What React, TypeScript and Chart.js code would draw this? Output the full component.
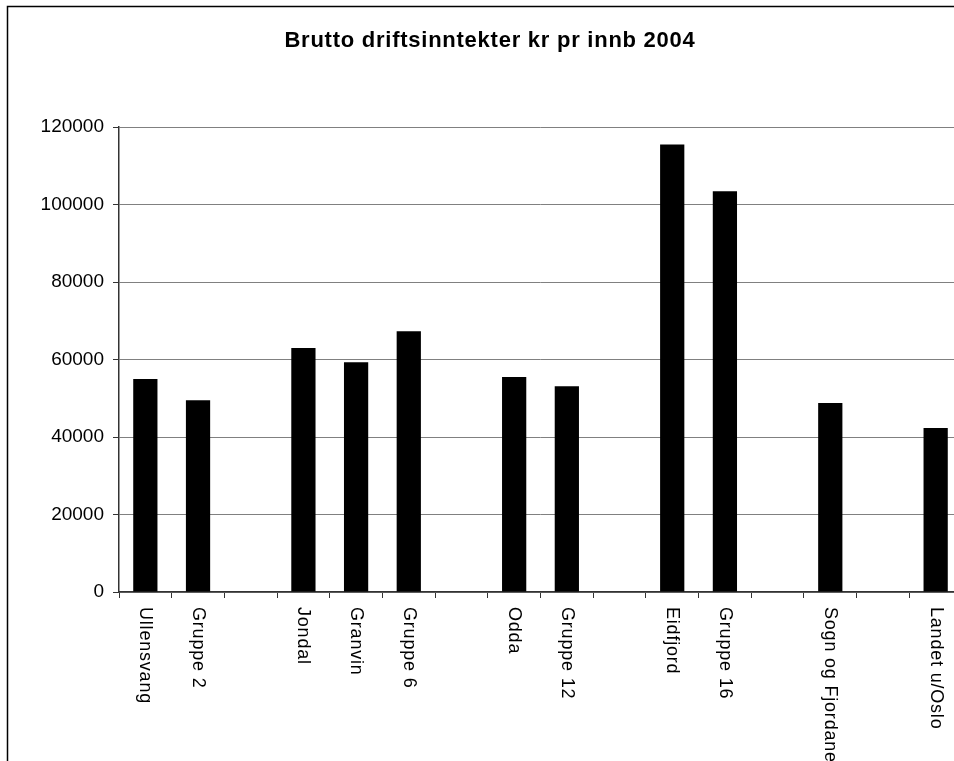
import React, { useEffect, useRef } from "react";
import { Chart, registerables } from "chart.js";

Chart.register(...registerables);

const TITLE = "Brutto driftsinntekter kr pr innb 2004";
const categories = [
  "Ullensvang", "Gruppe 2", "",
  "Jondal", "Granvin", "Gruppe 6", "",
  "Odda", "Gruppe 12", "",
  "Eidfjord", "Gruppe 16", "",
  "Sogn og Fjordane", "",
  "Landet u/Oslo",
];
const values: (number | null)[] = [
  55000, 49500, null,
  63000, 59300, 67300, null,
  55500, 53100, null,
  115500, 103400, null,
  48800, null,
  42300,
];
const yTicks = [0, 20000, 40000, 60000, 80000, 100000, 120000];

const W = 980;
const H = 820;
const FONT = "'Liberation Sans', Arial, sans-serif";

export default function App() {
  const ref = useRef<HTMLCanvasElement | null>(null);
  useEffect(() => {
    if (!ref.current) return;
    const deco = {
      id: "deco",
      afterDraw(chart: any) {
        const ctx = chart.ctx;
        ctx.save();
        ctx.strokeStyle = "#000";
        ctx.lineWidth = 1.5;
        ctx.strokeRect(7.5, 6.5, chart.width - 14, chart.height - 14);
        ctx.fillStyle = "#000";
        ctx.font = `bold 22px ${FONT}`;
        (ctx as any).letterSpacing = "0.75px";
        ctx.textAlign = "center";
        ctx.textBaseline = "middle";
        ctx.fillText(TITLE, chart.width / 2, 41);
        const xs = chart.scales.x;
        ctx.font = `18px ${FONT}`;
        (ctx as any).letterSpacing = "0.8px";
        ctx.textAlign = "left";
        ctx.textBaseline = "middle";
        categories.forEach((c, i) => {
          if (!c) return;
          const x = xs.getPixelForValue(i);
          ctx.save();
          ctx.translate(x, xs.top + 15);
          ctx.rotate(Math.PI / 2);
          ctx.fillText(c, 0, 0);
          ctx.restore();
        });
        (ctx as any).letterSpacing = "0px";
        ctx.restore();
      },
    };
    const chart = new Chart(ref.current, {
      type: "bar",
      data: {
        labels: categories,
        datasets: [
          {
            data: values,
            backgroundColor: "#000",
            borderColor: "#000",
            borderWidth: 0,
            barPercentage: 0.46,
            categoryPercentage: 1,
          },
        ],
      },
      options: {
        responsive: false,
        animation: false,
        layout: { padding: { top: 127, right: 18, left: 0, bottom: 0 } },
        plugins: { legend: { display: false }, title: { display: false }, tooltip: { enabled: false } },
        scales: {
          x: {
            afterFit(scale: any) {
              scale.height = H - 592;
            },
            ticks: { display: false },
            grid: {
              offset: true,
              drawOnChartArea: false,
              drawTicks: true,
              tickLength: 6,
              color: "#333",
            },
            border: { color: "#333", width: 1.5 },
          },
          y: {
            min: 0,
            max: 120000,
            afterFit(scale: any) {
              scale.width = 119;
            },
            afterBuildTicks(scale: any) {
              scale.ticks = yTicks.map((v) => ({ value: v }));
            },
            ticks: {
              padding: 9,
              color: "#000",
              font: { family: FONT, size: 19 },
              callback: (v: any) => String(v),
            },
            grid: {
              color: "#808080",
              lineWidth: 1,
              tickLength: 6,
              tickColor: "#333",
            },
            border: { color: "#333", width: 1.5 },
          },
        },
      },
      plugins: [deco],
    });
    return () => chart.destroy();
  }, []);
  return (
    <div style={{ position: "fixed", left: 0, top: 0, width: 954, height: 761, overflow: "hidden", background: "#fff" }}>
      <canvas ref={ref} width={W} height={H} style={{ width: W, height: H, display: "block" }} />
    </div>
  );
}
